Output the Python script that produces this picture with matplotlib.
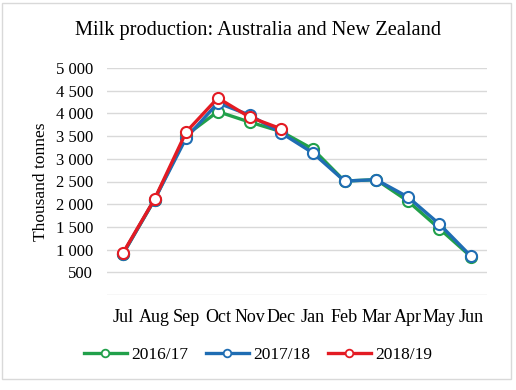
import numpy as np
import matplotlib.pyplot as plt
from matplotlib.patches import Rectangle
from matplotlib.lines import Line2D

plt.rcParams['font.family'] = ['Liberation Serif', 'DejaVu Serif']

months = ['Jul', 'Aug', 'Sep', 'Oct', 'Nov', 'Dec', 'Jan', 'Feb', 'Mar', 'Apr', 'May', 'Jun']
y2016 = [900, 2100, 3520, 4040, 3810, 3600, 3215, 2510, 2540, 2070, 1460, 840]
y2017 = [900, 2100, 3460, 4230, 3965, 3570, 3130, 2510, 2540, 2160, 1560, 850]
y2018 = [920, 2110, 3590, 4340, 3920, 3660]

yticks = [0, 500, 1000, 1500, 2000, 2500, 3000, 3500, 4000, 4500, 5000]
ytick_labels = ['', '500', '1 000', '1 500', '2 000', '2 500', '3 000',
                '3 500', '4 000', '4 500', '5 000']

fig = plt.figure(figsize=(5.16, 3.9), dpi=100)
ax = fig.add_axes([107 / 516, 1 - 295 / 390, 380 / 516, 227 / 390])

series = [('2016/17', y2016, '#21a04a'),
          ('2017/18', y2017, '#1f6db3'),
          ('2018/19', y2018, '#e31b23')]
x = np.arange(len(months))
handles = []
for name, vals, col in series:
    ax.plot(x[:len(vals)], vals, color=col, lw=2.4, marker='o', ms=8,
            mfc='white', mec=col, mew=1.5, zorder=3)
    handles.append(Line2D([], [], color=col, lw=2.4, marker='o', ms=5.5,
                          mfc='white', mec=col, mew=1.3, label=name))

ax.set_xlim(-0.5, 11.5)
ax.set_ylim(0, 5000)
ax.set_yticks(yticks)
ax.set_yticklabels(ytick_labels)
ax.set_xticks(x)
ax.set_xticklabels(months)
ax.tick_params(axis='both', length=0)
ax.tick_params(axis='x', pad=10, labelsize=13)
ax.tick_params(axis='y', pad=10, labelsize=12)
ax.grid(axis='y', color='#d9d9d9', lw=1)
ax.set_axisbelow(True)
for s in ax.spines.values():
    s.set_visible(False)

ax.set_ylabel('Thousand tonnes', fontsize=12.5, labelpad=5)
fig.text(0.5, 1 - 30 / 390, 'Milk production: Australia and New Zealand',
         ha='center', va='center', fontsize=14.7)

fig.legend(handles=handles, loc='center', bbox_to_anchor=(0.5, 1 - 355 / 390),
           ncol=3, frameon=False, fontsize=12.5, handlelength=2.5,
           handletextpad=0.25, columnspacing=1.0)

fig.patches.append(Rectangle((2 / 516, 1 - 379 / 390), 509 / 516, 376 / 390,
                             transform=fig.transFigure, fill=False,
                             edgecolor='#d9d9d9', lw=1))

plt.savefig('out.png', dpi=100)
